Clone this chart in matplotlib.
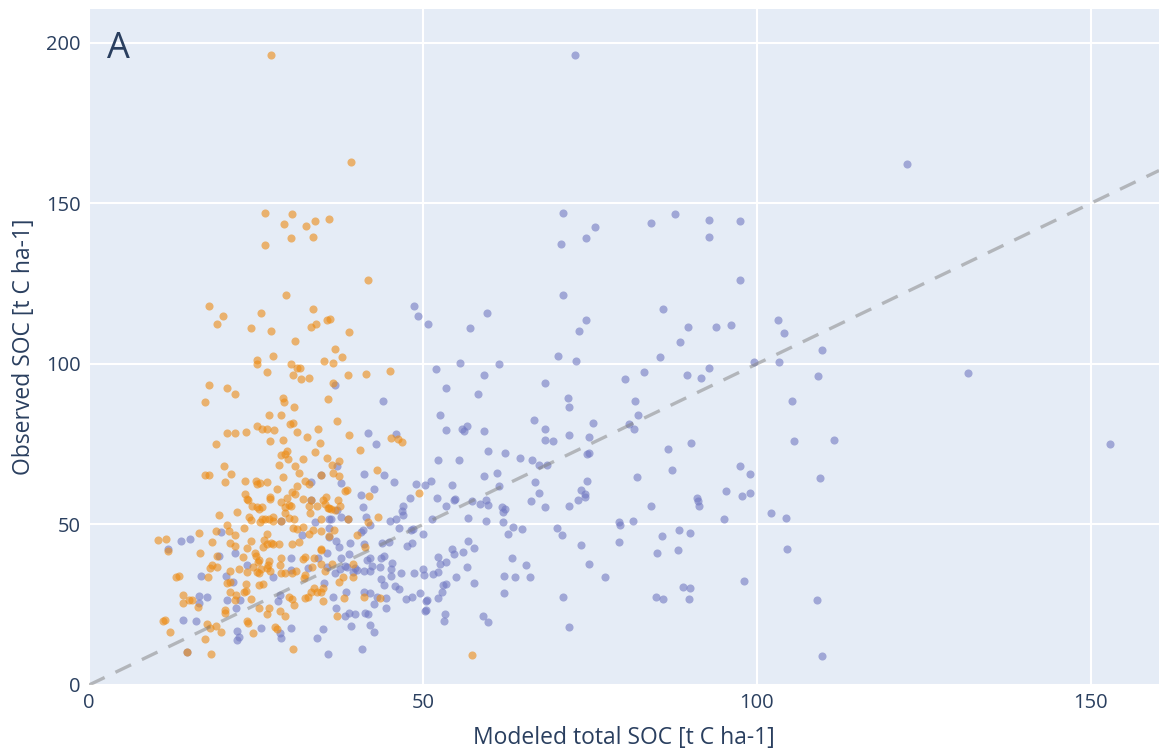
import matplotlib
matplotlib.use("Agg")
import matplotlib.pyplot as plt

plt.rcParams['font.family'] = ['Open Sans', 'DejaVu Sans']

# orange series (x = modeled, y = observed)
orange_pts = [
    (27.3, 196.3), (39.3, 162.8),
    (26.3, 147.0), (30.4, 146.8), (29.2, 143.7), (33.8, 144.6), (32.5, 142.8), (36.0, 145.0),
    (30.2, 139.3), (33.5, 139.5), (26.4, 137.0), (41.7, 126.1), (29.5, 121.4), (18.0, 118.1),
    (33.5, 117.0), (20.1, 114.8), (25.8, 115.7), (19.2, 112.4), (24.3, 111.3), (27.3, 110.2),
    (33.3, 111.5), (34.0, 112.4), (35.7, 113.8), (36.1, 113.9), (39.0, 109.8), (30.9, 107.0),
    (36.9, 104.7), (37.9, 102.0), (27.5, 102.6), (25.1, 101.2), (25.1, 100.1), (35.2, 100.8),
    (36.6, 100.4), (30.2, 100.1), (26.6, 97.6), (31.1, 98.6), (31.6, 98.8), (30.6, 96.6),
    (31.7, 95.2), (33.0, 95.6), (38.8, 96.6), (41.4, 96.7), (45.1, 97.7), (36.5, 94.0),
    (18.0, 93.4), (20.7, 92.5), (21.9, 90.7), (29.0, 89.5), (17.4, 88.2), (35.8, 89.1),
    (29.2, 88.0), (30.7, 86.7), (26.9, 84.0), (28.7, 84.0), (37.1, 82.3), (25.1, 80.8),
    (25.9, 79.8), (26.6, 79.8), (27.7, 79.5), (30.1, 81.2), (30.6, 81.5), (31.1, 78.8),
    (20.7, 78.4), (21.9, 78.5), (23.5, 78.9), (34.3, 79.6), (32.7, 77.3), (38.9, 77.8),
    (27.1, 75.9), (29.1, 76.3), (34.6, 75.3), (19.0, 75.2), (45.2, 76.8), (46.2, 76.5),
    (46.9, 75.6), (40.5, 73.2), (33.9, 72.4), (29.7, 72.8), (29.4, 71.8), (28.8, 71.6),
    (29.8, 70.3), (32.1, 70.3), (35.6, 70.7), (37.5, 69.6), (36.4, 68.5), (28.5, 68.6),
    (30.8, 68.3), (20.2, 68.3), (31.4, 65.9), (21.3, 65.7), (17.3, 65.5), (17.9, 65.5),
    (37.5, 65.0), (36.6, 65.9), (43.1, 66.9), (29.0, 64.7), (34.7, 65.4), (32.4, 63.6),
    (33.0, 62.6), (20.4, 63.2), (23.4, 63.6), (25.0, 63.4), (25.1, 62.6), (25.6, 62.9),
    (26.6, 63.2), (31.2, 61.9), (28.2, 60.9), (38.3, 60.5), (38.7, 60.6), (30.4, 60.0),
    (30.8, 59.4), (23.4, 59.4), (41.9, 58.8), (49.4, 59.7), (23.7, 58.0), (23.8, 57.5),
    (27.1, 58.6), (27.1, 57.8), (29.6, 58.3), (28.7, 57.0), (32.1, 57.9), (33.2, 57.6),
    (35.5, 58.6), (35.1, 57.6), (37.3, 57.6), (30.0, 56.1), (30.2, 55.8), (34.1, 55.7),
    (35.3, 56.5), (35.8, 55.1), (36.0, 55.0), (36.2, 54.9), (37.6, 55.7), (36.9, 54.5),
    (24.4, 55.7), (25.2, 55.3), (25.4, 54.9), (25.9, 55.5), (29.4, 55.5), (32.9, 55.7),
    (22.2, 54.0), (29.3, 53.7), (33.1, 53.6), (19.4, 52.8), (24.0, 52.4), (24.2, 51.4),
    (25.9, 51.7), (26.3, 51.6), (26.9, 51.7), (25.6, 50.9), (27.6, 52.2), (27.5, 51.1),
    (28.8, 51.1), (29.9, 52.0), (30.7, 51.7), (34.8, 51.8), (38.8, 51.7), (43.2, 52.4),
    (41.8, 50.8), (20.6, 49.7), (23.2, 48.8), (30.6, 49.0), (32.1, 49.3), (31.2, 48.5),
    (36.7, 48.4), (19.0, 47.8), (21.0, 48.0), (16.5, 47.4), (21.9, 46.8), (26.7, 47.0),
    (33.5, 48.2), (34.8, 47.9), (33.0, 47.1), (35.9, 46.5), (40.1, 46.7), (10.4, 45.0),
    (11.5, 45.5), (18.4, 44.6), (21.1, 44.1), (21.8, 43.3), (24.2, 44.9), (26.2, 45.1),
    (26.6, 43.9), (27.2, 44.3), (27.5, 43.8), (28.4, 43.8), (30.4, 43.8), (31.5, 44.5),
    (34.7, 42.4), (23.7, 42.7), (26.1, 43.0), (41.3, 43.0), (11.8, 41.7), (16.6, 41.0),
    (19.2, 40.1), (23.0, 40.0), (24.8, 41.2), (25.0, 40.1), (26.9, 38.6), (26.8, 37.3),
    (25.5, 38.9), (25.3, 38.4), (28.7, 39.6), (32.1, 39.3), (32.4, 39.8), (34.8, 42.0),
    (18.1, 36.3), (18.4, 37.3), (19.2, 36.8), (17.8, 33.7), (13.0, 33.5), (13.4, 33.9),
    (21.1, 35.6), (22.4, 36.0), (23.6, 35.2), (24.6, 36.6), (25.1, 35.3), (25.4, 34.8),
    (25.7, 36.0), (26.6, 36.3), (27.1, 35.6), (28.6, 37.3), (28.7, 34.8), (29.4, 35.0),
    (30.4, 34.8), (31.0, 35.5), (32.2, 33.2), (32.4, 34.2), (33.4, 36.8), (33.7, 39.7),
    (34.8, 37.6), (35.4, 35.6), (36.4, 37.7), (39.6, 37.7), (39.6, 33.7), (38.0, 33.5),
    (37.5, 32.2), (21.1, 32.2), (20.7, 31.8), (23.5, 31.3), (23.2, 29.0), (23.5, 29.3),
    (26.0, 31.4), (25.4, 31.1), (30.0, 27.5), (30.4, 26.7), (30.7, 24.9), (32.4, 27.0),
    (32.8, 27.3), (33.3, 29.0), (33.7, 30.1), (34.1, 28.9), (34.8, 29.0), (35.1, 30.1),
    (35.1, 26.1), (38.2, 27.0), (41.1, 27.5), (43.5, 27.0), (14.1, 28.0), (14.9, 26.6),
    (15.4, 26.6), (14.0, 25.4), (16.3, 24.4), (21.1, 29.0), (22.0, 28.1), (21.8, 26.6),
    (24.3, 26.8), (20.3, 23.3), (20.4, 22.3), (37.2, 21.6), (23.6, 19.9), (23.8, 19.4),
    (17.6, 18.9), (18.1, 17.8), (19.0, 18.4), (19.8, 16.6), (11.1, 20.0), (11.4, 20.2),
    (12.1, 16.6), (17.3, 14.3), (14.7, 10.2), (18.2, 9.6), (24.6, 16.3), (25.4, 23.9),
    (26.6, 22.1), (26.9, 23.9), (27.9, 18.1), (28.1, 17.5), (28.6, 23.1), (29.4, 21.5),
    (30.6, 11.2), (57.3, 9.3),
]

# purple series (x = modeled total SOC, y = observed SOC)
purple_pts = [
    (72.8, 196.3), (122.4, 162.3),
    (70.9, 147.1), (70.7, 137.2), (74.4, 139.3), (75.7, 142.7), (84.2, 143.8), (87.7, 146.8),
    (92.8, 144.9), (92.9, 139.5), (97.5, 144.6), (97.5, 126.1), (70.9, 121.4), (85.9, 117.0),
    (74.4, 113.7), (73.4, 110.2), (89.7, 111.5), (93.8, 111.6), (96.1, 112.2), (88.5, 106.9),
    (70.2, 102.6), (72.9, 101.0), (85.5, 102.1), (99.6, 100.5), (103.3, 100.5), (103.2, 113.8),
    (104.1, 109.5), (109.8, 104.2), (109.2, 96.2), (131.6, 97.2), (105.3, 88.3), (105.5, 75.9),
    (111.5, 76.3), (152.9, 75.2), (109.4, 64.5), (104.5, 42.3), (109.0, 26.6), (109.7, 9.0),
    (104.4, 52.0), (102.1, 53.7),
    (48.7, 118.1), (49.2, 114.8), (50.8, 112.4), (57.0, 111.3), (59.6, 115.7), (52.0, 98.5),
    (55.6, 100.2), (61.4, 100.0), (36.8, 93.4), (59.1, 96.6), (53.5, 92.5), (58.2, 90.6),
    (44.0, 88.5),
    (68.3, 94.0), (80.3, 95.2), (83.1, 97.6), (89.5, 96.6), (91.7, 95.6), (92.8, 98.8),
    (71.7, 89.3), (71.8, 86.7), (81.8, 88.4), (82.2, 84.0), (66.7, 82.4), (68.3, 79.8),
    (68.2, 76.4), (69.5, 76.0), (71.9, 77.8), (75.4, 81.6), (74.8, 77.3), (80.8, 81.2),
    (81.6, 79.6), (86.7, 73.4), (90.1, 75.4), (74.6, 71.9), (74.8, 72.2), (62.3, 72.3),
    (64.5, 70.8), (66.3, 70.0),
    (67.3, 68.4), (68.5, 68.6), (97.4, 68.3), (98.9, 65.8), (61.1, 66.0), (61.4, 62.0),
    (66.8, 63.3), (74.6, 63.4), (82.1, 64.8), (87.3, 66.9), (67.4, 59.8), (66.2, 57.3),
    (73.7, 60.7), (74.3, 59.4), (74.2, 58.4), (73.2, 57.6), (71.9, 55.6), (68.3, 55.3),
    (95.4, 60.5), (97.7, 58.8), (98.9, 59.7), (91.0, 58.1), (91.2, 57.3), (91.3, 55.6),
    (84.1, 55.7), (61.9, 55.5), (62.3, 54.9), (62.0, 53.9), (62.0, 50.9), (63.5, 49.3),
    (64.9, 48.5), (62.8, 46.9), (70.1, 48.9), (70.8, 46.7), (79.3, 50.8), (79.5, 49.8),
    (81.4, 51.1), (95.1, 51.7), (88.3, 48.2), (90.0, 47.2), (85.8, 46.4), (85.1, 41.1),
    (88.2, 42.1), (79.3, 44.6), (73.6, 43.7), (63.3, 39.7), (65.5, 37.3), (74.8, 37.8),
    (62.2, 33.9), (63.8, 33.5), (66.1, 33.6), (77.2, 33.7), (62.2, 28.5), (71.0, 27.3),
    (71.8, 18.1), (89.0, 30.4), (90.0, 30.2), (84.9, 27.4), (86.0, 26.9), (89.9, 26.9),
    (98.0, 32.4),
    (41.7, 78.5), (42.9, 75.2), (46.0, 78.3), (52.5, 84.1), (53.4, 79.5), (55.9, 79.7),
    (56.1, 79.0), (56.6, 80.7), (59.1, 79.0), (59.7, 72.8), (52.3, 70.2), (55.4, 70.2),
    (59.1, 65.1), (34.7, 65.4), (37.1, 68.2), (37.8, 62.8), (41.2, 65.6), (44.1, 65.4),
    (45.7, 63.2), (42.6, 60.9), (40.7, 59.2), (49.0, 62.6), (50.3, 62.2), (51.2, 63.6),
    (48.1, 58.2), (54.3, 62.2), (52.1, 58.3), (54.8, 58.0), (54.7, 57.6), (53.5, 55.7),
    (57.3, 57.3), (58.5, 56.3), (59.5, 57.6), (59.8, 55.9), (56.8, 52.1), (59.5, 51.1),
    (51.3, 51.8), (47.0, 55.7), (46.9, 54.3), (47.0, 52.9), (41.0, 55.5), (41.5, 52.4),
    (42.1, 49.8), (45.1, 51.1), (46.0, 51.6), (46.4, 48.9), (48.2, 48.4), (48.5, 48.7),
    (50.0, 47.1), (56.8, 44.9), (54.4, 42.3), (54.7, 40.8), (56.0, 41.4), (57.6, 42.7),
    (37.1, 54.6), (36.2, 51.7), (37.7, 52.2), (38.8, 51.7), (35.9, 49.0), (37.0, 44.9),
    (37.4, 43.0), (39.1, 44.1), (41.2, 43.9), (40.7, 47.7), (41.0, 48.2), (43.8, 44.1),
    (44.9, 44.6), (47.6, 43.3), (48.3, 44.3),
    (33.3, 63.2), (33.2, 57.6), (28.8, 51.1), (33.8, 50.7), (35.9, 51.6), (19.8, 47.5),
    (31.9, 46.8), (13.8, 44.9), (15.1, 45.5), (11.8, 42.2), (35.9, 46.2),
    (19.4, 40.1), (21.9, 41.0), (30.2, 39.6), (34.3, 39.7), (35.6, 41.2), (16.7, 33.9),
    (20.5, 33.9), (23.7, 37.3), (27.5, 33.5), (30.3, 35.8), (32.8, 36.3), (35.6, 36.8),
    (21.5, 32.0), (28.6, 28.0), (28.3, 26.2), (35.2, 31.7), (16.5, 27.7), (16.4, 25.4),
    (17.7, 27.5), (20.7, 26.6), (22.6, 26.6), (22.0, 24.1), (14.0, 20.2), (16.0, 19.9),
    (14.7, 10.2), (22.2, 16.8), (22.2, 14.1), (22.5, 14.8), (25.7, 17.9), (28.6, 16.1),
    (28.8, 14.5), (30.2, 17.6), (34.2, 14.7), (35.1, 17.5), (35.8, 9.6),
    (52.3, 39.9), (52.5, 37.7), (53.4, 38.3), (56.6, 36.8), (55.0, 33.5), (57.7, 31.8),
    (53.0, 31.1), (53.4, 31.4), (52.8, 29.0), (52.3, 27.0), (50.4, 26.1), (50.6, 26.5),
    (50.3, 23.0), (50.5, 23.3), (49.6, 28.5), (47.5, 26.8), (48.3, 27.3), (53.3, 22.1),
    (53.1, 20.0), (59.0, 21.6), (59.8, 19.7), (50.0, 36.0), (48.7, 35.0), (50.2, 34.3),
    (51.5, 34.5), (52.3, 35.2), (46.7, 34.8), (45.2, 36.1), (45.2, 33.9), (45.3, 38.1),
    (43.7, 32.9), (44.2, 31.1), (45.8, 30.9), (46.4, 29.8), (43.6, 36.8), (44.2, 40.2),
    (43.7, 39.6), (42.3, 37.0), (42.1, 39.4), (41.6, 38.9), (41.1, 35.6), (42.1, 35.6),
    (40.1, 35.8), (39.8, 36.3), (39.6, 35.1), (38.6, 36.8), (37.6, 36.0), (38.3, 37.1),
    (37.7, 39.7), (39.0, 40.7), (36.8, 34.8), (38.5, 29.0), (41.1, 29.0), (42.1, 28.5),
    (43.1, 27.3), (44.5, 27.0), (44.4, 23.9), (42.6, 25.1), (39.0, 22.3), (39.8, 22.1),
    (41.3, 22.5), (41.8, 22.1), (38.4, 21.6), (37.0, 23.9), (36.5, 27.5), (42.0, 18.7),
    (42.6, 16.6), (39.2, 18.4), (40.9, 11.2),
]

x_ticks = [0, 50, 100, 150]
y_ticks = [0, 50, 100, 150, 200]

txt = '#2a3f5f'
bg = '#e5ecf6'

fig = plt.figure(figsize=(11.59, 7.54), dpi=100)
ax = fig.add_axes([89 / 1159, 1 - 685 / 754, 1070 / 1159, 676 / 754])
ax.set_facecolor(bg)

ax.set_xlim(0, 160.2)
ax.set_ylim(0, 210.5)
ax.set_xticks(x_ticks)
ax.set_yticks(y_ticks)
ax.grid(True, color='white', linewidth=1.5)
ax.set_axisbelow(True)
for s in ax.spines.values():
    s.set_visible(False)
ax.tick_params(length=0, labelsize=14.5, labelcolor=txt)
ax.tick_params(axis='x', pad=6)
ax.tick_params(axis='y', pad=6)

ox = [p[0] for p in orange_pts]
oy = [p[1] for p in orange_pts]
px = [p[0] for p in purple_pts]
py = [p[1] for p in purple_pts]

ax.scatter(px, py, s=34, color='#7279c2', alpha=0.6, linewidths=0, zorder=3)
ax.scatter(ox, oy, s=34, color='#ed8b13', alpha=0.6, linewidths=0, zorder=3)

ax.plot([0, 160.2], [0, 160.2], color='grey', alpha=0.5, linewidth=2.4,
        dashes=(5.2, 3.6), zorder=4)

ax.set_xlabel('Modeled total SOC [t C ha-1]', fontsize=16.5, color=txt, labelpad=9)
ax.set_ylabel('Observed SOC [t C ha-1]', fontsize=16.5, color=txt, labelpad=7)

ax.text(0.017, 0.928, 'A', transform=ax.transAxes, fontsize=26, color=txt,
        va='baseline', ha='left')

fig.savefig('out.png', dpi=100)
